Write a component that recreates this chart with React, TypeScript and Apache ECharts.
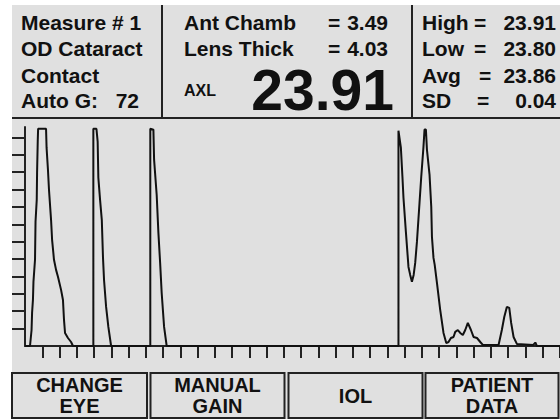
import React, { useEffect, useRef } from "react";
import * as echarts from "echarts";

// ---- data (x in tick units along depth, y in tick units of amplitude) ----
const echoCornea: number[][] = [[0.29,0],[0.38,0.92],[0.41,1.9],[0.46,2.65],[0.49,3.69],[0.58,4.96],[0.61,7.15],[0.68,8.41],[0.7,9.97],[0.74,11.87],[0.76,12.5],[1.22,12.5],[1.25,11.41],[1.33,10.14],[1.39,8.99],[1.51,7.26],[1.57,6.11],[1.68,4.96],[1.8,4.38],[1.91,3.98],[2.09,3.23],[2.2,2.65],[2.26,1.5],[2.32,0.75],[2.49,0.46],[2.67,0.23],[2.78,0]];
const echoLensFront: number[][] = [[3.96,0],[3.96,12.5],[4.14,12.5],[4.21,11.76],[4.25,9.68],[4.35,8.41],[4.45,7.26],[4.52,5.07],[4.58,3.8],[4.7,2.25],[4.83,1.1],[4.99,0]];
const echoLensBack: number[][] = [[7.26,0],[7.26,12.5],[7.44,12.45],[7.48,10.72],[7.63,8.7],[7.73,6.51],[7.83,4.78],[7.92,3.05],[8.06,1.1],[8.21,0]];
const echoRetina: number[][] = [[21.64,0],[21.64,12.39],[21.78,11.41],[21.87,9.74],[21.93,8.53],[22.07,6.57],[22.22,4.55],[22.32,4.09],[22.42,3.69],[22.52,4.09],[22.61,4.78],[22.71,5.99],[22.86,8.24],[22.96,9.74],[23.09,11.47],[23.15,12.45],[23.23,12.45],[23.29,11.3],[23.44,9.86],[23.54,8.01],[23.58,6.28],[23.67,5.07],[23.74,4.67],[23.87,3.63],[24.06,2.07],[24.25,0.75],[24.41,0.17],[24.54,0.23],[24.68,0.46],[24.83,0.52],[24.93,0.81],[25.08,0.92],[25.22,0.75],[25.37,0.63],[25.51,0.92],[25.66,1.33],[25.84,0.92],[25.99,0.52],[26.19,0.46],[26.38,0.23],[26.53,0.06]];
const echoOrbit: number[][] = [[27.44,0.06],[27.63,0.92],[27.77,1.67],[27.92,2.25],[28.06,2.19],[28.17,1.33],[28.31,0.52],[28.5,0.12],[29.45,0.06],[29.57,0.2],[29.66,0],[31,0]];

const xTicks = [1,2,3,4,5,6,7,8,9,10,11,12,13,14,15,16,17,18,19,20,21,22,23,24,25,26,27,28,29,30,31];
const yTicks = [1,2,3,4,5,6,7,8,9,10,11,12];

const leftLabels = ["Measure # 1", "OD Cataract", "Contact", "Auto G:"];
const autoGain = "72";
const midLabels = ["Ant Chamb", "Lens Thick"];
const midValues = ["3.49", "4.03"];
const axlLabel = "AXL";
const axlValue = "23.91";
const statLabels = ["High", "Low", "Avg", "SD"];
const statValues = ["23.91", "23.80", "23.86", "0.04"];
const buttonLabels = [["CHANGE", "EYE"], ["MANUAL", "GAIN"], ["IOL"], ["PATIENT", "DATA"]];

export default function App() {
  const ref = useRef<HTMLDivElement>(null);
  useEffect(() => {
    if (!ref.current) return;
    const chart = echarts.init(ref.current, undefined, { renderer: "svg" });
    const FF = '"Liberation Sans", Arial, Helvetica, sans-serif';
    const ink = "#111";
    const rowY = [22.5, 48.3, 75, 100.8];
    const txt = (text: string, x: number, y: number, size: number, align = "left") => ({
      type: "text", x, y, z: 10,
      style: { text, font: `bold ${size}px ${FF}`, fill: ink, align, verticalAlign: "middle", textAlign: align, textVerticalAlign: "middle" },
    });
    const ln = (x1: number, y1: number, x2: number, y2: number) => ({
      type: "line", z: 5, shape: { x1, y1, x2, y2 }, style: { stroke: "#222", lineWidth: 2 },
    });
    const g: any[] = [];
    g.push({ type: "rect", z: -100, shape: { x: 12, y: 5, width: 548, height: 414 }, style: { fill: "#e0e0e0" } });
    g.push(ln(162, 5, 162, 118), ln(412, 5, 412, 118), ln(12, 118, 560, 118));
    leftLabels.forEach((t, i) => g.push(txt(t, 21, rowY[i], 21)));
    g.push(txt(autoGain, 139, rowY[3], 21, "right"));
    midLabels.forEach((t, i) => {
      g.push(txt(t, 184, rowY[i], 21));
      g.push(txt("=", 334, rowY[i], 21, "center"));
      g.push(txt(midValues[i], 388, rowY[i], 21, "right"));
    });
    g.push(txt(axlLabel, 184, 90, 16));
    g.push(txt(axlValue, 394, 90, 57, "right"));
    const eqX = [480, 480, 485, 483];
    statLabels.forEach((t, i) => {
      g.push(txt(t, 422, rowY[i], 21));
      g.push(txt("=", eqX[i], rowY[i], 21, "center"));
      g.push(txt(statValues[i], 556, rowY[i], 21, "right"));
    });
    const btnX = [[12, 147], [150.5, 284.5], [288.5, 422.5], [425.5, 558.5]];
    buttonLabels.forEach((lines, i) => {
      const [a, b] = btnX[i];
      g.push({ type: "rect", z: 5, shape: { x: a, y: 373, width: b - a, height: 45 }, style: { fill: "none", stroke: "#222", lineWidth: 2 } });
      const cx = (a + b) / 2;
      if (lines.length === 1) g.push(txt(lines[0], cx, 395.5, 20, "center"));
      else {
        g.push(txt(lines[0], cx, 384.7, 20, "center"));
        g.push(txt(lines[1], cx, 405.5, 20, "center"));
      }
    });

    const trace = [[0, 0], ...echoCornea, ...echoLensFront, ...echoLensBack, ...echoRetina, ...echoOrbit];
    const axisStyle = { color: "#222", width: 2 };
    chart.setOption({
      animation: false,
      backgroundColor: "#ffffff",
      grid: { left: 25, top: 127, width: 535, height: 219 },
      xAxis: {
        type: "value", min: 0, max: 31,
        axisLine: { show: true, lineStyle: axisStyle },
        axisTick: { show: true, length: 12, lineStyle: axisStyle, customValues: xTicks },
        axisLabel: { show: false },
        splitLine: { show: false },
      },
      yAxis: {
        type: "value", min: 0, max: 12.6,
        axisLine: { show: true, lineStyle: axisStyle },
        axisTick: { show: true, length: 13, lineStyle: axisStyle, customValues: yTicks },
        axisLabel: { show: false },
        splitLine: { show: false },
      },
      series: [{
        type: "line", data: trace, showSymbol: false, symbol: "none",
        lineStyle: { color: "#111", width: 2 }, z: 3,
      }],
      graphic: { elements: g },
    });
    return () => chart.dispose();
  }, []);
  return (
    <div style={{ position: "fixed", left: 0, top: 0, width: 560, height: 419, background: "#fff" }}>
      <div ref={ref} style={{ width: 560, height: 419 }} />
    </div>
  );
}
